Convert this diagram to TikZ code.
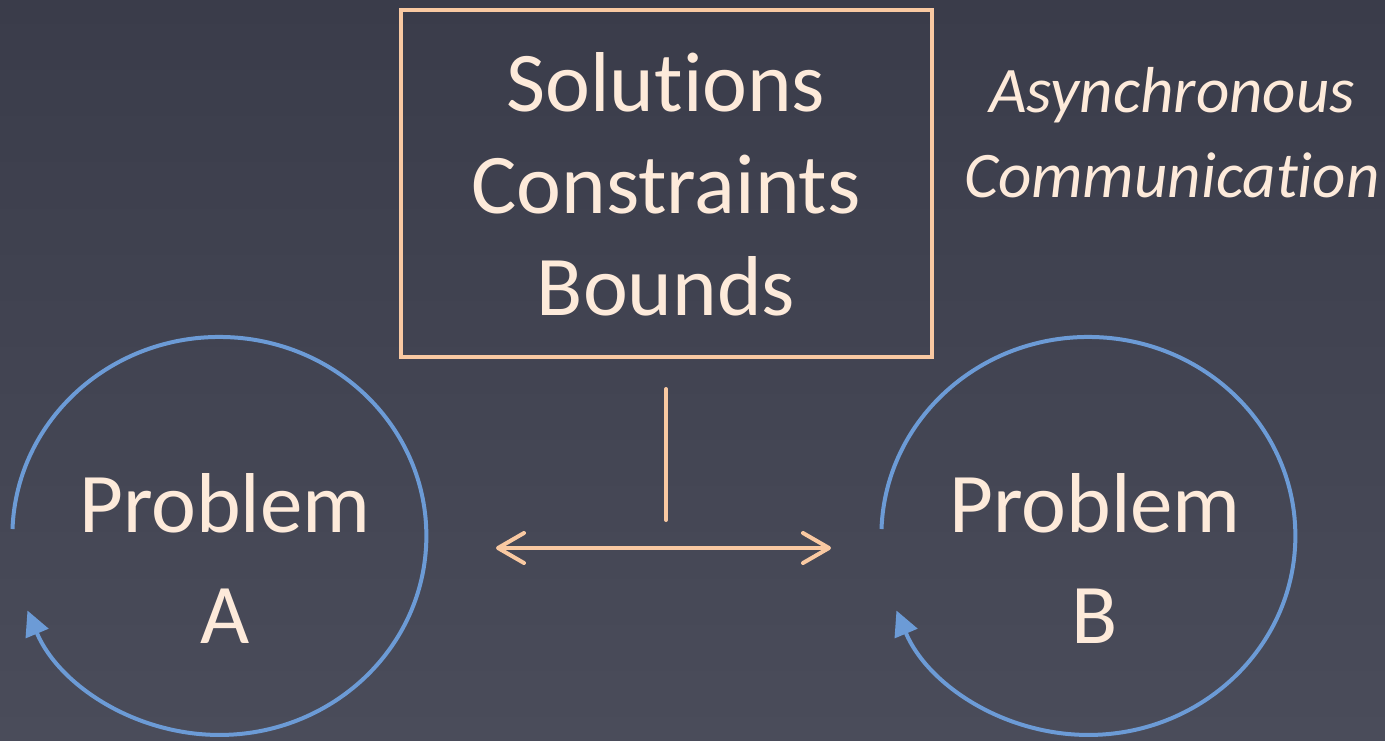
\documentclass[tikz,border=0pt]{standalone}
\usepackage{fontspec}
\setmainfont{Carlito}[Ligatures={NoCommon}]
\usetikzlibrary{arrows.meta}

\definecolor{bgtop}{HTML}{3A3C4A}
\definecolor{bgbot}{HTML}{4A4C5A}
\definecolor{ink}{HTML}{FDEADA}
\definecolor{peach}{HTML}{F9C9A2}
\definecolor{loopblue}{HTML}{6C9BD6}

\tikzset{peachbarb/.tip={Straight Barb[length=26pt, width=30pt, line cap=round, round]}}

\begin{document}
\begin{tikzpicture}[x=1pt, y=-1pt,
  bigtext/.style={text=ink, inner sep=0pt, anchor=base, font=\fontsize{85}{101}\selectfont},
  probtext/.style={text=ink, inner sep=0pt, anchor=base, font=\fontsize{85}{111}\selectfont},
  notetext/.style={text=ink, inner sep=0pt, anchor=base, font=\itshape\fontsize{65}{85}\selectfont},
  infobox/.style={draw=peach, line width=3.5pt, minimum width=531pt, minimum height=347pt, inner sep=0pt},
  link/.style={draw=peach, line width=4pt, line cap=round},
  loop/.style={draw=loopblue, line width=4pt, -{Triangle[length=25pt, width=24pt]}}]

  % background
  \shade[top color=bgtop, bottom color=bgbot] (0,0) rectangle (1385,740);
  \useasboundingbox (0,0) rectangle (1385,740);

  % central box with its three lines
  \node[infobox] (board) at (666.5,183.5) {};
  \node[bigtext] (sol) at (666,111) {Solutions};
  \node[bigtext] (con) at (666,213) {Constraints};
  \node[bigtext] (bnd) at (666,315) {Bounds};

  % side note
  \node[notetext] (async) at (1172,112) {Asynchronous};
  \node[notetext] (comm) at (1172,197) {Communication};

  % the two problems
  \coordinate (sa) at (12.5,529);
  \coordinate (sb) at (881.5,529);
  \node[probtext] (pa1) at (225,532) {Problem};
  \node[probtext] (pa2) at (225,643) {A};
  \node[probtext] (pb1) at (1095,532) {Problem};
  \node[probtext] (pb2) at (1095,643) {B};

  % cyclic arrows round each problem
  \draw[loop] (sa) arc[start angle=182, end angle=518, x radius=207, y radius=199];
  \draw[loop] (sb) arc[start angle=182, end angle=518, x radius=207, y radius=199];

  % exchange between the problems
  \coordinate (stemtop) at (666,389);
  \coordinate (stembot) at (666,520);
  \coordinate (xl) at (496,548);
  \coordinate (xr) at (831,548);
  \draw[link] (stemtop) -- (stembot);
  \draw[link, peachbarb-peachbarb] (xl) -- (xr);
\end{tikzpicture}
\end{document}
